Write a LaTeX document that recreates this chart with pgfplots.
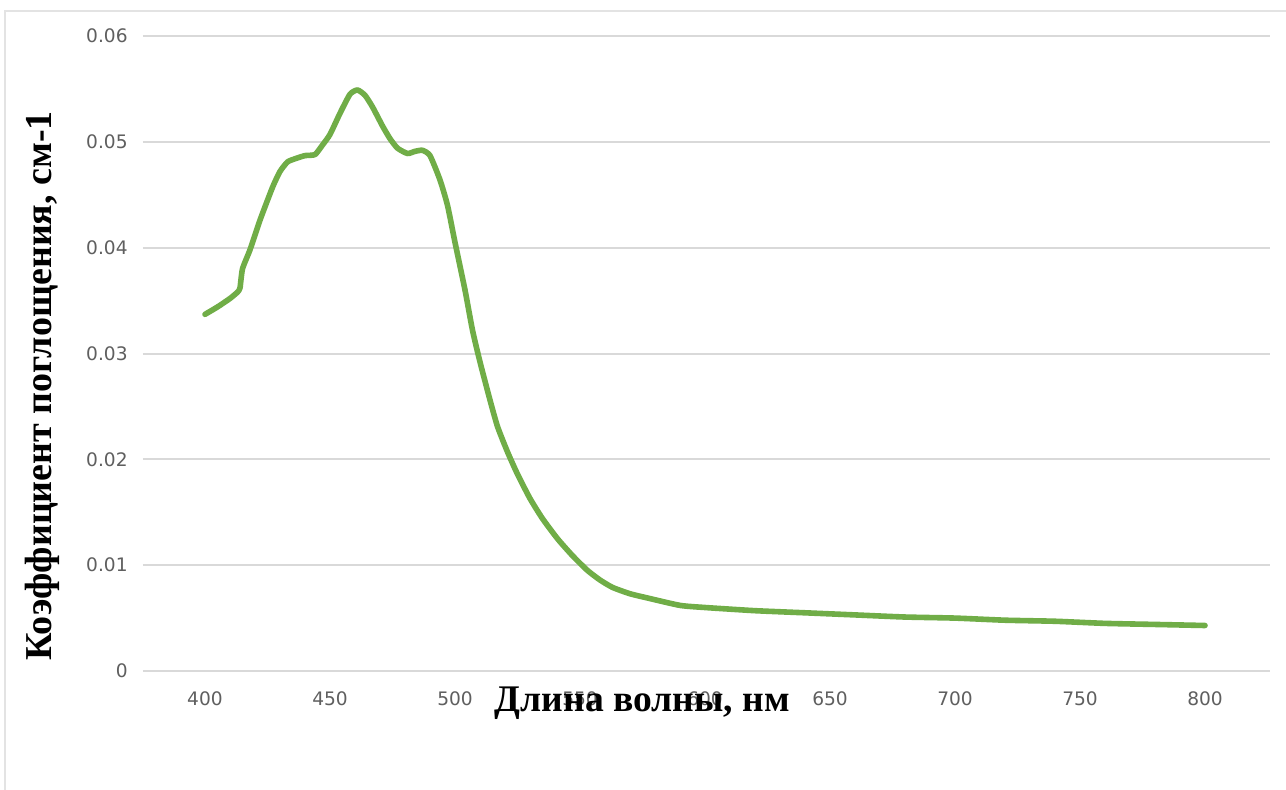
\documentclass[border=0pt]{standalone}
\usepackage{pgfplots}
\pgfplotsset{compat=1.18}
\usepackage{fontspec}
\setmainfont{Liberation Serif}
\newfontfamily\tickfont{DejaVu Sans}
\definecolor{lgreen}{HTML}{70AD47}
\definecolor{gridc}{HTML}{D9D9D9}
\definecolor{tickc}{HTML}{5F5F5F}
\definecolor{framec}{HTML}{E3E3E3}
\begin{document}
\begin{tikzpicture}
\useasboundingbox (-71.5pt,-59pt) rectangle (571.5pt,335.5pt);
\fill[white] (-71.5pt,-59pt) rectangle (571.5pt,335.5pt);
\draw[framec, line width=1pt] (-69pt,-70pt) -- (-69pt,330pt) -- (590pt,330pt);
\begin{axis}[
  at={(0pt,0pt)}, anchor=south west,
  scale only axis,
  width=563.5pt, height=317.5pt,
  xmin=375.2, xmax=826,
  ymin=0, ymax=0.06,
  axis line style={draw=none},
  major tick length=0pt,
  xtick={400,450,...,800},
  xticklabels={400,450,500,550,600,650,700,750,800},
  ytick={0,0.01,0.02,0.03,0.04,0.05,0.06},
  yticklabels={0,0.01,0.02,0.03,0.04,0.05,0.06},
  scaled y ticks=false,
  ymajorgrids,
  grid style={gridc, line width=1pt},
  xticklabel style={font=\tickfont\fontsize{9.3}{11}\selectfont, text=tickc, anchor=center, yshift=-14pt},
  yticklabel style={font=\tickfont\fontsize{9.3}{11}\selectfont, text=tickc, anchor=east, inner sep=0pt, xshift=-7.5pt},
  xlabel={Длина волны, нм},
  ylabel={Коэффициент поглощения, см-1},
  xlabel style={font=\bfseries\fontsize{18.8}{20}\selectfont, at={(axis description cs:0.443,-0.0504)}, anchor=center},
  ylabel style={font=\bfseries\fontsize{19}{21}\selectfont, at={(axis description cs:-0.0896,0.449)}, anchor=center, rotate=0},
  clip=false,
]
\addplot[lgreen, line width=2.8pt, line join=round, line cap=round, smooth, tension=0.35] coordinates {
(400,0.0337) (405,0.0344) (410,0.0352) (413,0.0358) (414,0.0362) (415,0.0380)
(418,0.0398) (422,0.0426) (427,0.0457) (430,0.0472) (433,0.0481) (436,0.0484)
(440,0.0487) (444,0.0488) (447,0.0497) (450,0.0507) (454,0.0527) (458,0.0545)
(461,0.0549) (464,0.0544) (467,0.0533) (471,0.0515) (474,0.0503) (477,0.0494)
(481,0.0489) (484,0.0491) (487,0.0492) (490,0.0487) (494,0.0464) (497,0.0440)
(500,0.0405) (504,0.0360) (507,0.0322) (510,0.0292) (514,0.0256) (517,0.0231)
(521,0.0207) (525,0.0186) (530,0.0163) (535,0.0144) (541,0.0125) (547,0.0109)
(553,0.0095) (558,0.0086) (563,0.0079) (570,0.0073) (577,0.0069) (590,0.0062)
(600,0.0060) (620,0.0057) (640,0.0055) (660,0.0053) (680,0.0051) (700,0.0050)
(720,0.0048) (740,0.0047) (760,0.0045) (780,0.0044) (800,0.0043)
};
\end{axis}
\end{tikzpicture}
\end{document}
